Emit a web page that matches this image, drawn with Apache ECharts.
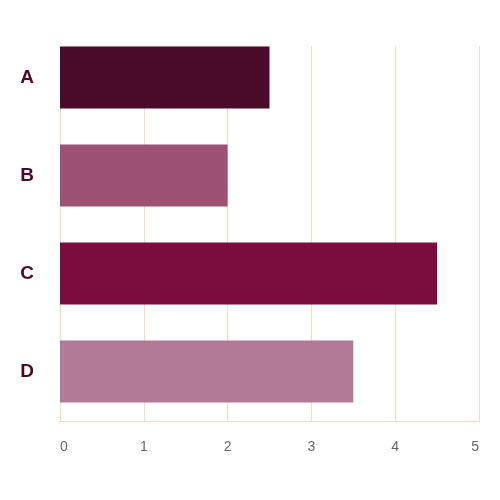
<!DOCTYPE html>
<html>
<head>
<meta charset="utf-8">
<script src="https://cdn.jsdelivr.net/npm/echarts@6/dist/echarts.min.js"></script>
<style>html,body{margin:0;padding:0;background:#fff}#c{width:500px;height:500px}</style>
</head>
<body>
<div id="c"></div>
<script>
const categories = ['A', 'B', 'C', 'D'];
const values = [2.5, 2, 4.5, 3.5];
const barColors = ['#4a0a2a', '#9c5272', '#7a0c3e', '#b37a95'];
const xTicks = [0, 1, 2, 3, 4, 5];

const lineCol = '#eedccb';
const font = 'Liberation Sans, Arial, sans-serif';
const chart = echarts.init(document.getElementById('c'));
chart.setOption({
  animation: false,
  backgroundColor: '#fff',
  grid: [
    { left: 60, right: 21, top: 28.5, bottom: 79.5 },
    { left: 60, right: 21, top: 46, bottom: 79 }
  ],
  xAxis: [
    {
      gridIndex: 0, type: 'value',
      min: xTicks[0], max: xTicks[xTicks.length - 1], interval: 1,
      show: false
    },
    {
      gridIndex: 1, type: 'value',
      min: xTicks[0], max: xTicks[xTicks.length - 1], interval: 1,
      axisLine: { show: true, lineStyle: { color: lineCol, width: 1 } },
      axisTick: { show: false },
      splitLine: { show: true, lineStyle: { color: lineCol, width: 1 } },
      axisLabel: {
        color: '#666', fontSize: 14, margin: 19, fontFamily: font,
        alignMinLabel: 'left', alignMaxLabel: 'right'
      }
    }
  ],
  yAxis: [
    {
      gridIndex: 0, type: 'category', data: categories, inverse: true,
      axisLine: { show: false }, axisTick: { show: false }, splitLine: { show: false },
      axisLabel: { color: '#4a0a2a', fontSize: 19, fontWeight: 'bold', margin: 26, fontFamily: font }
    },
    {
      gridIndex: 1, type: 'category', data: categories, inverse: true,
      axisLine: { show: true, lineStyle: { color: lineCol, width: 1 } },
      axisTick: { show: false }, axisLabel: { show: false }, splitLine: { show: false }
    }
  ],
  series: [{
    type: 'bar',
    xAxisIndex: 0, yAxisIndex: 0,
    data: values.map((v, i) => ({ value: v, itemStyle: { color: barColors[i] } })),
    barWidth: 62
  }]
});
</script>
</body>
</html>
